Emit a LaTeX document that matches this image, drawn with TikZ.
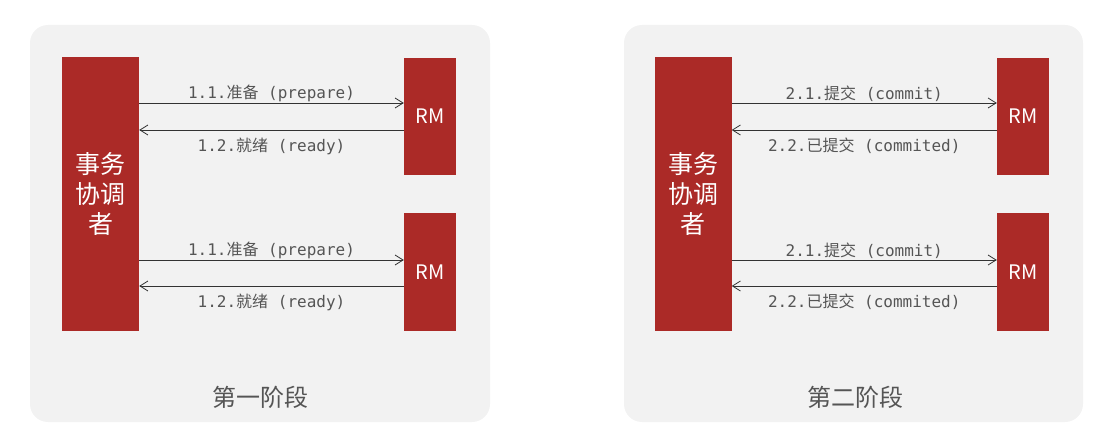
\documentclass[tikz,border=0pt]{standalone}
\usepackage{fontspec}
\setmainfont{Noto Sans CJK SC}
\newfontfamily\cjk{Noto Sans CJK SC}
\newfontfamily\mono{DejaVu Sans Mono}
\usetikzlibrary{positioning, arrows.meta}

\definecolor{tcred}{HTML}{AB2A27}
\definecolor{panelgray}{HTML}{F2F2F2}
\definecolor{textgray}{HTML}{555555}
\definecolor{linegray}{HTML}{333333}

\newcommand{\msgtext}[3]{{\mono #1}{\cjk #2}{\mono\ #3}}

\begin{document}
\begin{tikzpicture}[
		x=1pt, y=-1pt,
		every node/.style={inner sep=0pt},
		coord/.style={rectangle, fill=tcred, text=white, minimum width=77pt, minimum height=274pt, font=\cjk\fontsize{25}{30}\selectfont, align=center},
		rm/.style={rectangle, fill=tcred, text=white, minimum width=52pt, minimum height=117pt, font=\cjk\fontsize{20}{24}\selectfont},
		msg/.style={text=textgray, font=\fontsize{16}{19}\selectfont},
		phase/.style={text=textgray, font=\cjk\fontsize{24}{29}\selectfont},
		flow/.style={-{Straight Barb[length=8pt, width=10pt]}, draw=linegray, line width=0.8pt}
	]
  \useasboundingbox (0,0) rectangle (1120,425);
  \fill[panelgray, rounded corners=18pt] (30,25) rectangle (490,422);
  \fill[panelgray, rounded corners=18pt] (624,25) rectangle (1083,422);

  % phase one
  \node (c_1) [coord] at (100.5,194) {事务\\协调\\者};
  \node (rm_1a) [rm] at (430,116.5) {RM};
  \node (rm_1b) [rm] at (430,272) {RM};
  \node (phase_1) [phase] at (260,397) {第一阶段};
  \draw[flow] ([yshift=13.5pt]rm_1a.west -| c_1.east) -- ([yshift=13.5pt]rm_1a.west)
    node[msg, midway, above=1pt] {\msgtext{1.1.}{准备}{(prepare)}};
  \draw[flow] ([yshift=-13.5pt]rm_1a.west) -- ([yshift=-13.5pt]rm_1a.west -| c_1.east)
    node[msg, midway, below=7.5pt] {\msgtext{1.2.}{就绪}{(ready)}};
  \draw[flow] ([yshift=12pt]rm_1b.west -| c_1.east) -- ([yshift=12pt]rm_1b.west)
    node[msg, midway, above=1pt] {\msgtext{1.1.}{准备}{(prepare)}};
  \draw[flow] ([yshift=-14pt]rm_1b.west) -- ([yshift=-14pt]rm_1b.west -| c_1.east)
    node[msg, midway, below=7.5pt] {\msgtext{1.2.}{就绪}{(ready)}};

  % phase two
  \node (c_2) [coord] at (693,194) {事务\\协调\\者};
  \node (rm_2a) [rm] at (1023,116.5) {RM};
  \node (rm_2b) [rm] at (1023,272) {RM};
  \node (phase_2) [phase] at (855,397) {第二阶段};
  \draw[flow] ([yshift=13.5pt]rm_2a.west -| c_2.east) -- ([yshift=13.5pt]rm_2a.west)
    node[msg, midway, above=1pt] {\msgtext{2.1.}{提交}{(commit)}};
  \draw[flow] ([yshift=-13.5pt]rm_2a.west) -- ([yshift=-13.5pt]rm_2a.west -| c_2.east)
    node[msg, midway, below=7.5pt] {\msgtext{2.2.}{已提交}{(commited)}};
  \draw[flow] ([yshift=12pt]rm_2b.west -| c_2.east) -- ([yshift=12pt]rm_2b.west)
    node[msg, midway, above=1pt] {\msgtext{2.1.}{提交}{(commit)}};
  \draw[flow] ([yshift=-14pt]rm_2b.west) -- ([yshift=-14pt]rm_2b.west -| c_2.east)
    node[msg, midway, below=7.5pt] {\msgtext{2.2.}{已提交}{(commited)}};
\end{tikzpicture}
\end{document}
